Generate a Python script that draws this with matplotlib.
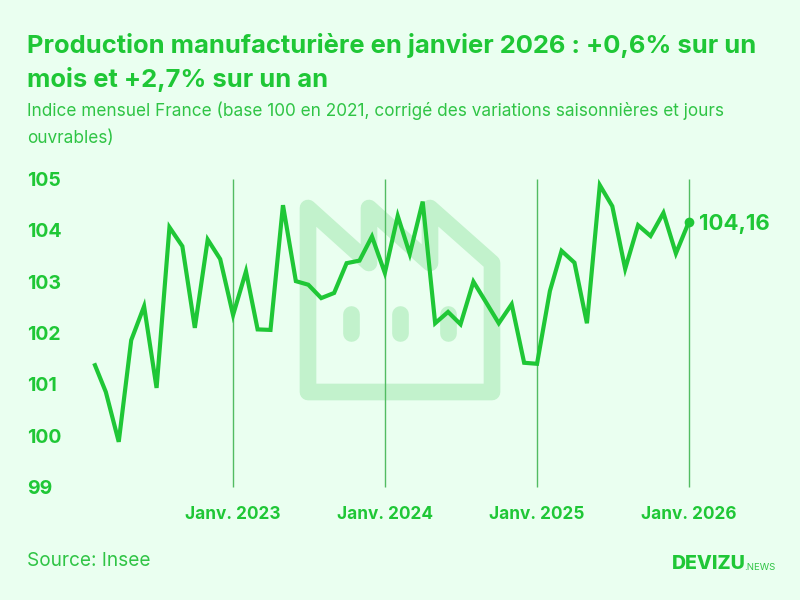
import matplotlib
matplotlib.use("Agg")
import matplotlib.pyplot as plt
import pandas as pd
from matplotlib.path import Path
from matplotlib.patches import PathPatch
from matplotlib.transforms import Affine2D

W, H = 800, 600
BG = "#EAFFF0"
GREEN = "#1FC736"
TEXT2 = "#2FC445"
ICON = "#C2F2CC"
VLINE = "#52BC62"
FONT = "Inter"

months = pd.date_range("2022-02-01", "2026-01-01", freq="MS")
values = [101.41, 100.85, 99.88, 101.86, 102.52, 100.93, 104.06, 103.69, 102.10, 103.82, 103.44,
          102.35, 103.20, 102.07, 102.06, 104.49, 103.01, 102.94, 102.68, 102.78, 103.36, 103.41, 103.88,
          103.17, 104.28, 103.54, 104.56, 102.19, 102.41, 102.17, 103.00, 102.59, 102.19, 102.56, 101.42,
          101.40, 102.82, 103.60, 103.37, 102.19, 104.88, 104.47, 103.25, 104.10, 103.89, 104.34, 103.55,
          104.16]
y_ticks = [99, 100, 101, 102, 103, 104, 105]
jan_dates = pd.to_datetime(["2023-01-01", "2024-01-01", "2025-01-01", "2026-01-01"])
jan_labels = ["Janv. 2023", "Janv. 2024", "Janv. 2025", "Janv. 2026"]
title = "Production manufacturière en janvier 2026 : +0,6% sur un\nmois et +2,7% sur un an"
subtitle = "Indice mensuel France (base 100 en 2021, corrigé des variations saisonnières et jours\nouvrables)"
source = "Source: Insee"
end_label = "104,16"

fig = plt.figure(figsize=(W / 100, H / 100), dpi=100, facecolor=BG)
plt.rcParams["font.family"] = [FONT, "DejaVu Sans"]
px = Affine2D().scale(1 / W, -1 / H).translate(0, 1) + fig.transFigure


def txt(x, y, s, **kw):
    return fig.text(x / W, 1 - y / H, s, family=FONT, **kw)


# Decorative factory icon behind the chart
outline = [(308, 208), (369, 263), (369, 208), (430, 263), (430, 208), (492, 263), (492, 392), (308, 392), (308, 208)]
codes = [Path.MOVETO] + [Path.LINETO] * (len(outline) - 2) + [Path.CLOSEPOLY]
fig.add_artist(PathPatch(Path(outline, codes), fill=False, ec=ICON, lw=12, joinstyle="round", capstyle="round", transform=px, zorder=-1))
for wx in (351, 400, 448):
    fig.add_artist(PathPatch(Path([(wx, 314), (wx, 333)]), fill=False, ec=ICON, lw=12, capstyle="round", transform=px, zorder=-1))

left, right, top, bottom = 94.2, 688.8, 179, 487
ax = fig.add_axes([left / W, 1 - bottom / H, (right - left) / W, (bottom - top) / H])
ax.patch.set_alpha(0)
ax.set_xlim(months[0], months[-1])
ax.set_ylim(99, 105)
for s in ax.spines.values():
    s.set_visible(False)

ax.vlines(jan_dates, 99, 105, color=VLINE, lw=1, zorder=2, clip_on=False)
ax.plot(months, values, color=GREEN, lw=3, solid_joinstyle="miter", solid_capstyle="butt", clip_on=False, zorder=3)
ax.plot(months[-1], values[-1], "o", color=GREEN, ms=7, mew=0, clip_on=False, zorder=4)
ax.annotate(end_label, (months[-1], values[-1]), xytext=(7.5, -1.5), textcoords="offset points", va="center", ha="left",
            color=GREEN, fontsize=16, fontweight="bold", family=FONT, annotation_clip=False)

ax.set_yticks(y_ticks)
ax.set_yticklabels([str(v) for v in y_ticks], ha="left", va="center_baseline", color=GREEN, fontsize=14, fontweight="bold", family=FONT)
ax.set_xticks(jan_dates)
ax.set_xticklabels(jan_labels, color=GREEN, fontsize=12.4, fontweight="bold", family=FONT)
ax.tick_params(axis="y", length=0, pad=(left - 27) * 0.72)
ax.tick_params(axis="x", length=0, pad=13.5)

txt(27, 33.5, title, color=GREEN, fontsize=18.4, fontweight="bold", va="top", linespacing=1.42, ha="left")
txt(27, 102, subtitle, color=TEXT2, fontsize=12.4, va="top", linespacing=1.72, ha="left")
txt(27, 560.5, source, color=TEXT2, fontsize=13.7, va="center", ha="left")
txt(672, 564, "DEVIZU", color=GREEN, fontsize=14, fontweight="heavy", va="center", ha="left")
txt(744, 568, ".NEWS", color=TEXT2, fontsize=6.9, va="center", ha="left")

fig.savefig("out.png", dpi=100, facecolor=BG)
